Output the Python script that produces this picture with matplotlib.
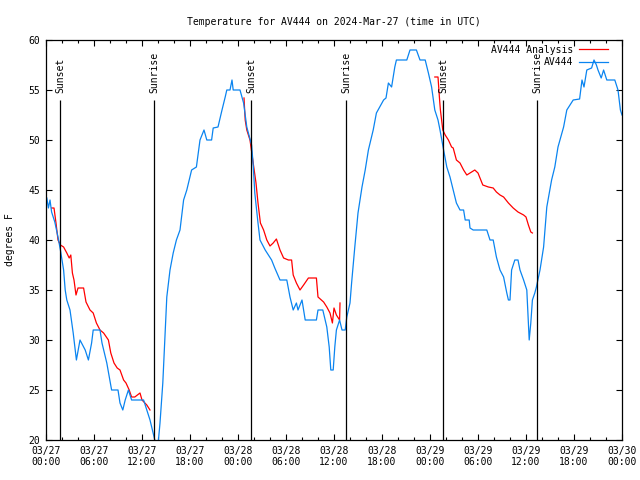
import matplotlib
matplotlib.use('Agg')
from matplotlib import pyplot as plt

# Observed temperature (hours since 2024-03-27 00:00 UTC, degrees F)
obs_hours = [0.1, 0.3, 0.5, 0.7, 1.1, 1.5, 1.8, 2.2, 2.4, 2.6, 3.0, 3.4, 3.8, 4.25, 4.9,
             5.3, 5.7, 5.9, 6.75, 7.0, 7.6, 8.2, 9.0, 9.25, 9.6, 9.9, 10.3, 10.7, 12.2,
             12.6, 13.0, 13.3, 13.6, 14.0, 14.25, 14.6, 14.9, 15.1, 15.5, 15.9, 16.3,
             16.75, 17.2, 17.6, 18.2, 18.8, 19.25, 19.75, 20.1, 20.7, 20.9, 21.5, 22.0,
             22.4, 22.6, 23.0, 23.25, 23.4, 24.25, 24.7, 25.1, 25.7, 25.9, 26.1, 26.5,
             26.75, 27.4, 28.2, 28.6, 29.25, 30.1, 30.5, 30.9, 31.3, 31.5, 32.0, 32.4,
             33.8, 34.0, 34.6, 35.1, 35.4, 35.6, 35.9, 36.1, 36.3, 36.7, 37.0, 37.4,
             37.6, 38.0, 38.2, 38.6, 39.0, 39.5, 39.9, 40.3, 40.9, 41.3, 42.2, 42.5,
             42.8, 43.2, 43.6, 43.8, 45.1, 45.5, 46.3, 46.75, 47.4, 47.8, 48.2, 48.6,
             49.0, 49.25, 49.7, 50.1, 50.5, 50.9, 51.3, 51.75, 52.2, 52.4, 52.9, 53.0,
             53.4, 55.1, 55.5, 55.9, 56.3, 56.75, 57.2, 57.6, 57.8, 58.0, 58.2, 58.6,
             59.0, 59.25, 59.7, 60.1, 60.3, 60.4, 60.6, 60.8, 61.1, 61.3, 61.75, 62.2,
             62.6, 63.2, 63.6, 64.0, 64.7, 65.1, 65.9, 66.7, 67.0, 67.25, 67.6, 68.2,
             68.5, 68.8, 69.0, 69.4, 69.7, 70.1, 71.1, 71.5, 71.8, 72.0]
obs_temps = [44.2, 43.2, 44.0, 42.8, 41.8, 40.3, 39, 37, 35, 34, 33, 30.7, 28, 30, 29,
             28, 29.7, 31, 31, 29.7, 27.7, 25, 25, 23.7, 23, 24, 25, 24, 24,
             23, 22, 21, 20, 19.5, 21.7, 25.7, 31, 34.3, 37, 38.7, 40,
             41, 44, 45, 47, 47.3, 50, 51, 50, 50, 51.2, 51.3, 53,
             54.3, 55, 55, 56, 55, 55, 53.7, 51.3, 49.5, 47.5, 44.7, 41.7,
             40, 39, 38, 37.2, 36, 36, 34.3, 33, 33.7, 33, 34, 32,
             32, 33, 33, 31.3, 29.3, 27, 27, 29.3, 31, 32, 31, 31,
             32.3, 33.7, 35.7, 39.3, 42.7, 45.3, 47, 49, 51, 52.7, 54, 54.2,
             55.7, 55.3, 57.3, 58, 58, 59, 59, 58, 58, 56.7, 55.3, 53,
             52, 51, 49, 47.3, 46.3, 45, 43.7, 43, 43, 42, 42, 41.2,
             41, 41, 40, 40, 38.3, 37, 36.3, 34.7, 34, 34, 37, 38,
             38, 37, 36, 35, 31.7, 30, 31.7, 34, 34.7, 35.3, 37, 39.3,
             43.3, 46, 47.3, 49.3, 51.3, 53, 54, 54.1, 56, 55.3, 57, 57.2,
             58, 57.5, 57, 56.2, 57, 56, 56, 55, 53, 52.5]

# Analysis runs (three overnight pieces)
ana1_hours = [0.7, 1.0, 1.25, 1.5, 1.8, 2.2, 2.6, 2.9, 3.1, 3.3, 3.5, 3.75, 4.0, 4.7,
              5.0, 5.5, 5.9, 6.3, 6.75, 7.2, 7.8, 8.1, 8.5, 8.9, 9.25, 9.7, 10.0,
              10.4, 10.7, 11.1, 11.75, 12.0, 12.6, 13.0]
ana1_temps = [43.2, 43.2, 41.7, 40, 39.5, 39.3, 38.7, 38.2, 38.5, 36.7, 36, 34.5, 35.2,
              35.2, 33.8, 33, 32.7, 31.7, 31, 30.7, 30, 28.7, 27.7, 27.2, 27, 26, 25.7,
              25, 24.3, 24.3, 24.7, 24, 23.5, 23]
ana2_hours = [24.75, 24.9, 25.1, 25.5, 25.9, 26.25, 26.5, 26.8, 27.2, 27.6, 28.0, 28.4,
              28.8, 29.25, 29.7, 30.3, 30.7, 30.9, 31.3, 31.75, 32.2, 32.8, 33.8, 34.0,
              34.7, 35.1, 35.5, 35.8, 36.0, 36.3, 36.7, 36.75]
ana2_temps = [54.2, 52, 51, 50, 47.7, 45.7, 43.7, 41.7, 41, 40, 39.4, 39.7, 40.1, 39,
              38.2, 38, 38, 36.5, 35.7, 35, 35.5, 36.2, 36.2, 34.3, 33.8, 33.3, 32.7,
              31.7, 33.2, 32.5, 32, 33.7]
ana3_hours = [48.6, 49.0, 49.2, 49.3, 49.6, 49.9, 50.3, 50.7, 50.9, 51.3, 51.75, 52.2,
              52.6, 53.0, 53.6, 54.0, 54.6, 55.3, 55.9, 56.3, 56.75, 57.2, 57.8, 58.4,
              59.0, 59.7, 60.0, 60.3, 60.6, 60.8]
ana3_temps = [56.3, 56.3, 54, 53, 51, 50.5, 50, 49.3, 49.2, 48, 47.7, 47, 46.5, 46.7,
              47, 46.7, 45.5, 45.3, 45.2, 44.8, 44.5, 44.3, 43.7, 43.2, 42.8, 42.5,
              42.3, 41.5, 40.8, 40.7]

# Sun events
event_hours = [1.69, 13.44, 25.63, 37.5, 49.63, 61.38]
event_names = ['Sunset', 'Sunrise', 'Sunset', 'Sunrise', 'Sunset', 'Sunrise']

tick_hours = list(range(0, 73, 6))
tick_labels = ['03/27\n00:00', '03/27\n06:00', '03/27\n12:00', '03/27\n18:00',
               '03/28\n00:00', '03/28\n06:00', '03/28\n12:00', '03/28\n18:00',
               '03/29\n00:00', '03/29\n06:00', '03/29\n12:00', '03/29\n18:00',
               '03/30\n00:00']

plt.rcParams['font.family'] = 'DejaVu Sans Mono'
plt.rcParams['font.size'] = 7

fig = plt.figure(figsize=(6.4, 4.8), dpi=100)
ax = fig.add_axes([46 / 640, 40 / 480, 576 / 640, 400 / 480])

red = '#ff0000'
blue = '#0a84f0'
ax.plot(ana1_hours, ana1_temps, color=red, lw=0.9, label='AV444 Analysis')
ax.plot(ana2_hours, ana2_temps, color=red, lw=0.9)
ax.plot(ana3_hours, ana3_temps, color=red, lw=0.9)
ax.plot(obs_hours, obs_temps, color=blue, lw=0.9, label='AV444')

for h, name in zip(event_hours, event_names):
    ax.vlines(h, 20, 54, color='black', lw=0.9)
    ax.text(h + 0.1, 54.7, name, rotation=90, ha='center', va='bottom')

ax.set_xlim(0, 72)
ax.set_ylim(20, 60)
ax.set_xticks(tick_hours)
ax.set_xticklabels(tick_labels)
ax.set_xticks(range(0, 73, 2), minor=True)
ax.set_yticks(range(20, 61, 5))
ax.tick_params(which='both', direction='in', top=True, right=True, pad=4)
ax.tick_params(which='major', length=4.5, width=0.8)
ax.tick_params(which='minor', length=2.5, width=0.8)
for s in ax.spines.values():
    s.set_linewidth(0.9)

ax.set_ylabel('degrees F', labelpad=10)
ax.set_title('Temperature for AV444 on 2024-Mar-27 (time in UTC)', fontsize=7, pad=11)

ax.legend(loc='upper right', bbox_to_anchor=(1 - 7 / 576, 1 + 2 / 400), frameon=False,
          markerfirst=False, handlelength=3.0, handletextpad=0.6, labelspacing=0.25,
          borderaxespad=0.3)

fig.savefig('out.png', dpi=100)
